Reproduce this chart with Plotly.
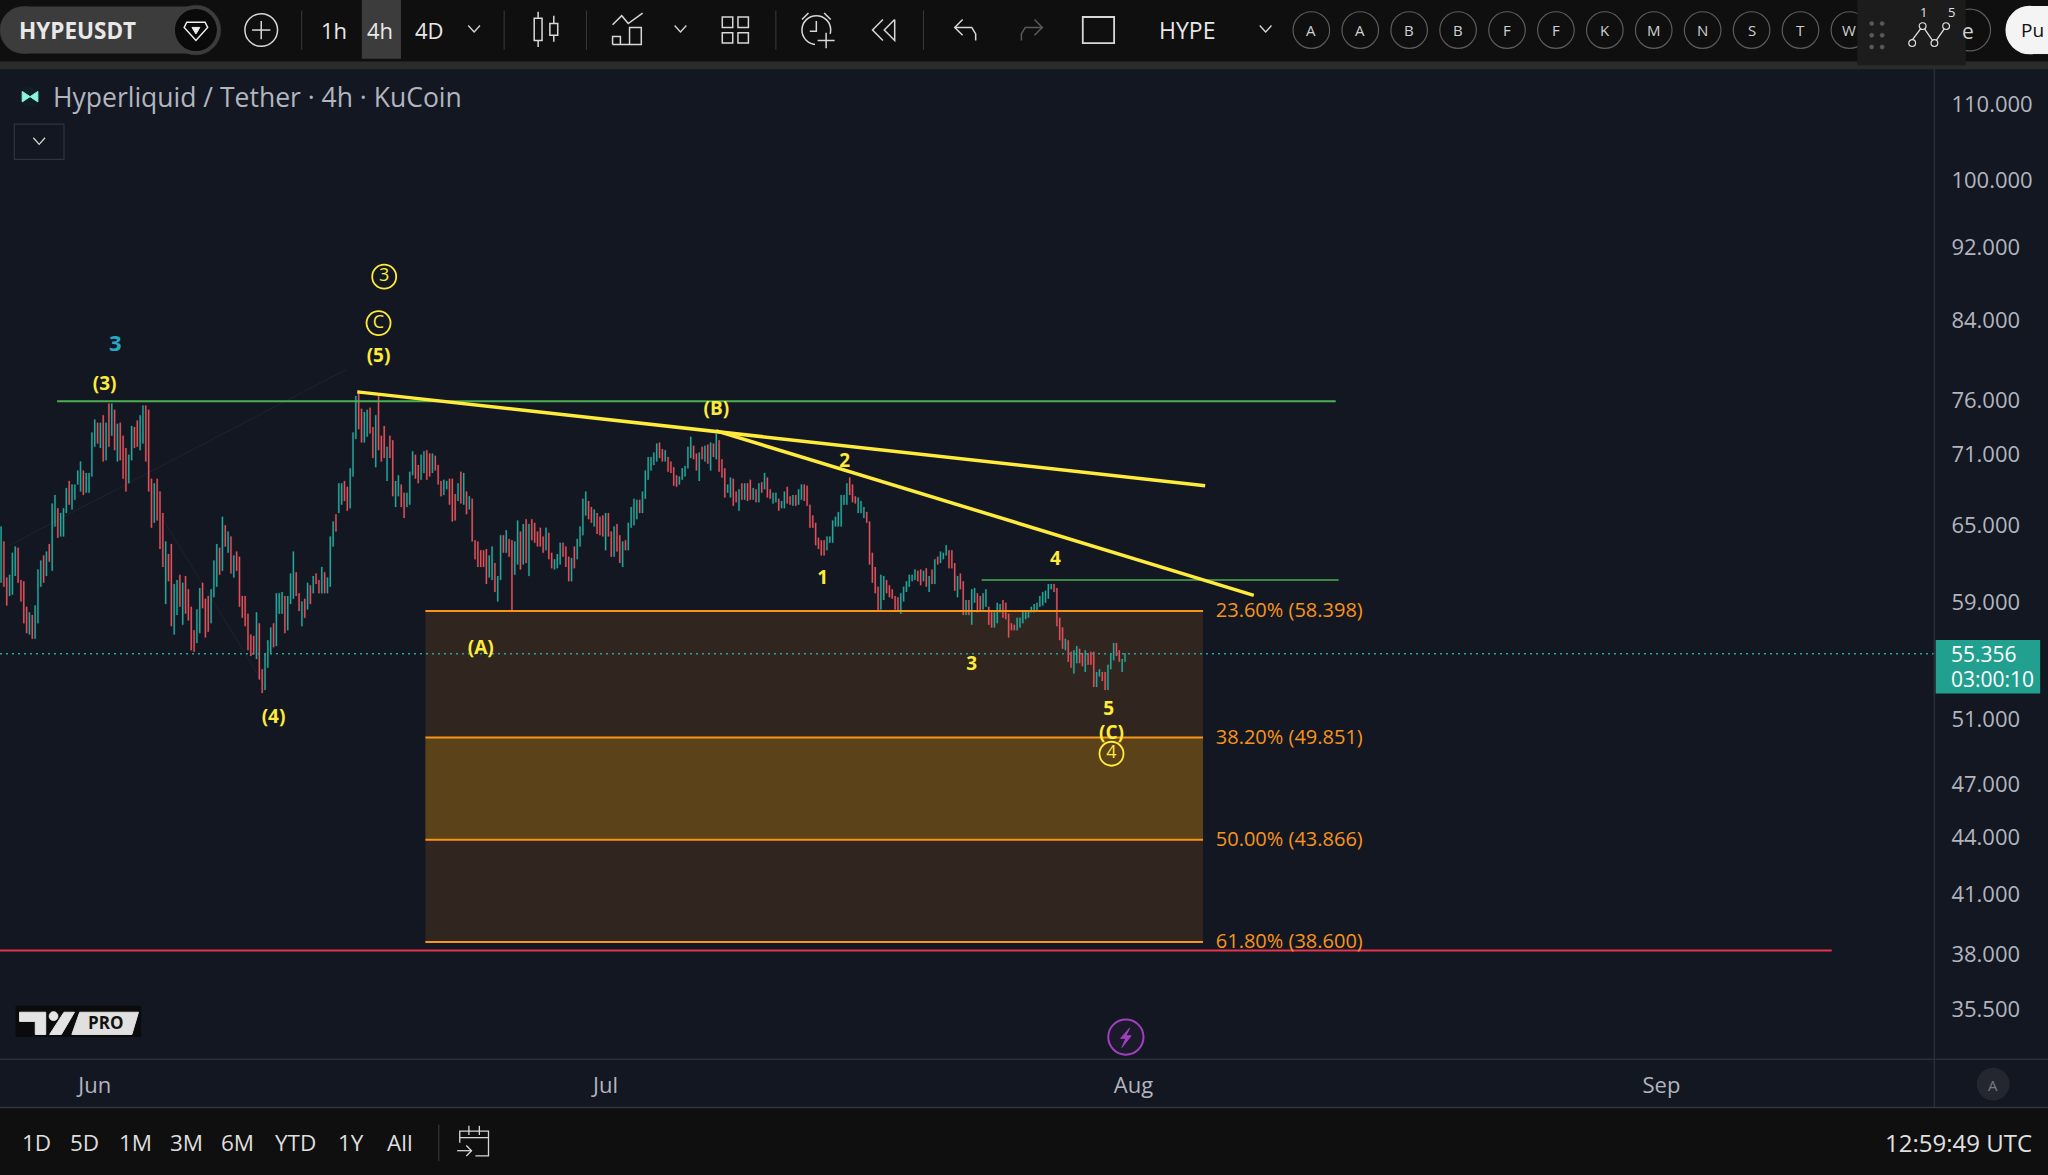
import math

import pandas as pd
import plotly.graph_objects as go

# 4h bars
highs = [
    64.9, 63.7, 60.9, 61.1, 62.8, 63.3, 63.2, 60.7, 60.6, 58.7,
    58.3, 58.1, 58.8, 61.5, 62.2, 62.6, 62.9, 63.5, 66.8, 67.5,
    66.4, 66.0, 66.4, 68.1, 68.7, 68.4, 68.4, 69.6, 70.4, 69.6,
    69.4, 69.4, 73.0, 74.2, 73.9, 73.9, 74.6, 73.9, 75.7, 75.7,
    75.1, 73.8, 73.9, 72.7, 71.6, 71.0, 73.6, 73.5, 74.1, 74.6,
    75.5, 75.5, 75.1, 68.9, 68.5, 68.9, 67.8, 66.0, 63.7, 62.7,
    63.5, 60.4, 60.7, 61.1, 60.5, 61.0, 60.0, 58.7, 57.0, 58.5,
    60.1, 60.5, 59.3, 59.5, 60.0, 62.2, 63.5, 63.2, 65.7, 65.0,
    64.5, 64.1, 62.6, 62.9, 62.5, 59.5, 59.5, 58.2, 56.7, 56.6,
    58.3, 57.5, 54.3, 55.4, 56.3, 57.2, 57.5, 59.7, 59.7, 59.8,
    59.5, 59.5, 61.2, 62.9, 61.3, 59.7, 59.1, 59.3, 60.5, 60.3,
    61.0, 61.2, 60.7, 61.7, 61.3, 60.9, 64.1, 65.3, 65.9, 68.5,
    68.5, 68.7, 68.2, 69.8, 73.0, 76.4, 76.9, 75.2, 74.9, 75.1,
    75.3, 73.5, 74.6, 76.6, 72.7, 73.6, 71.7, 72.7, 72.3, 68.7,
    69.2, 68.4, 67.7, 67.7, 69.5, 71.3, 71.0, 70.1, 71.0, 71.3,
    71.4, 71.1, 71.1, 70.9, 70.1, 68.7, 68.8, 68.7, 68.9, 68.9,
    67.6, 68.5, 69.5, 69.4, 67.8, 67.4, 67.2, 63.8, 63.7, 63.0,
    63.0, 63.1, 62.6, 63.3, 62.0, 61.0, 64.2, 64.2, 64.6, 63.9,
    63.8, 63.7, 65.4, 64.5, 65.1, 65.5, 65.1, 65.5, 65.2, 64.5,
    64.8, 64.1, 64.8, 64.4, 62.8, 62.3, 62.7, 63.6, 63.6, 63.3,
    62.5, 62.4, 63.3, 63.9, 64.9, 67.2, 67.8, 67.0, 66.5, 66.3,
    66.0, 65.7, 65.8, 66.0, 66.0, 64.5, 64.9, 65.1, 64.2, 63.7,
    63.8, 65.2, 66.5, 67.2, 67.1, 67.1, 67.8, 69.6, 70.8, 70.8,
    71.2, 72.0, 72.1, 71.5, 71.4, 70.8, 70.4, 69.9, 69.2, 69.1,
    69.8, 70.0, 71.7, 72.6, 71.8, 71.1, 71.2, 71.7, 71.8, 71.9,
    72.1, 72.0, 72.9, 72.3, 70.6, 69.8, 68.4, 69.0, 68.9, 67.8,
    68.0, 68.5, 68.5, 68.5, 68.8, 68.1, 68.0, 68.5, 68.6, 69.4,
    69.0, 68.0, 67.7, 67.7, 67.2, 67.0, 67.8, 68.2, 67.4, 67.5,
    67.5, 68.0, 68.4, 68.4, 68.3, 66.7, 65.8, 65.2, 64.0, 63.8,
    63.8, 64.1, 64.1, 65.4, 65.7, 66.1, 67.5, 67.5, 68.5, 69.0,
    68.4, 67.4, 67.3, 67.0, 66.5, 66.1, 65.3, 62.8, 61.7, 60.2,
    61.1, 61.0, 60.7, 60.3, 60.0, 59.5, 59.4, 59.7, 60.2, 60.6,
    61.1, 61.1, 61.5, 61.4, 61.5, 61.4, 61.6, 61.0, 61.5, 62.3,
    62.5, 62.9, 62.8, 63.4, 63.0, 63.0, 62.0, 61.0, 61.2, 60.6,
    59.2, 59.2, 60.0, 60.1, 59.7, 59.5, 59.7, 60.0, 58.7, 58.3,
    58.3, 59.0, 58.9, 59.2, 59.0, 58.2, 57.5, 57.4, 57.9, 57.9,
    58.4, 58.4, 58.4, 58.7, 58.9, 59.0, 59.5, 59.8, 59.9, 60.4,
    60.4, 60.4, 60.1, 57.9, 57.2, 56.4, 56.3, 55.5, 55.6, 55.9,
    55.7, 55.4, 55.6, 55.4, 55.5, 55.5, 54.1, 54.3, 54.1, 54.1,
    54.6, 55.4, 56.1, 56.1, 55.6, 55.0, 55.4,
]
lows = [
    60.5, 60.2, 58.8, 59.5, 59.6, 61.0, 60.5, 59.1, 57.5, 56.8,
    56.7, 56.4, 56.4, 57.5, 60.2, 60.5, 61.0, 62.1, 61.4, 64.9,
    64.0, 64.1, 64.1, 66.0, 66.7, 66.3, 67.1, 68.4, 67.8, 67.5,
    67.7, 67.7, 69.1, 71.7, 72.0, 71.6, 70.4, 70.5, 71.7, 72.7,
    71.4, 70.4, 70.5, 68.9, 67.8, 68.5, 70.5, 71.6, 71.7, 71.4,
    72.0, 70.4, 67.8, 64.8, 65.2, 65.4, 63.1, 61.7, 58.9, 60.6,
    57.3, 56.7, 58.1, 58.7, 57.4, 58.2, 57.7, 55.6, 55.5, 56.1,
    56.8, 58.6, 56.5, 56.9, 57.5, 59.4, 60.2, 61.1, 61.4, 63.3,
    62.8, 61.2, 60.9, 61.4, 58.7, 57.9, 57.3, 55.6, 55.2, 55.3,
    55.0, 53.6, 52.7, 52.9, 54.4, 55.4, 55.8, 55.9, 58.2, 58.2,
    56.8, 57.0, 58.9, 59.3, 59.5, 58.4, 57.3, 57.9, 58.5, 58.9,
    59.7, 60.4, 59.7, 59.7, 59.7, 59.7, 60.2, 63.3, 64.5, 66.0,
    66.7, 67.0, 66.2, 66.4, 69.1, 72.4, 73.3, 72.1, 72.1, 72.6,
    72.9, 70.7, 69.9, 71.4, 70.4, 70.7, 68.7, 70.7, 67.4, 66.5,
    67.4, 66.5, 65.6, 66.5, 66.7, 69.2, 68.9, 68.5, 68.8, 69.4,
    68.8, 69.1, 69.4, 69.6, 68.4, 67.4, 67.5, 68.0, 66.7, 65.3,
    65.4, 67.0, 66.8, 66.7, 65.9, 66.3, 63.7, 62.3, 61.7, 61.7,
    61.7, 60.4, 60.9, 60.7, 59.8, 59.1, 60.7, 62.8, 62.8, 62.5,
    58.4, 61.1, 61.9, 61.5, 61.9, 62.0, 61.0, 63.8, 63.6, 63.3,
    63.3, 62.8, 63.0, 62.3, 61.6, 61.5, 61.6, 61.9, 62.5, 61.7,
    60.6, 60.6, 61.6, 62.3, 63.3, 64.2, 65.8, 65.5, 65.2, 64.9,
    64.3, 64.2, 64.1, 63.0, 64.1, 62.5, 62.5, 62.9, 62.0, 61.7,
    63.0, 63.0, 64.8, 65.0, 65.5, 66.0, 66.0, 67.2, 68.8, 69.6,
    70.1, 70.4, 70.7, 70.4, 70.4, 69.5, 69.4, 68.3, 68.2, 68.4,
    68.8, 69.1, 69.8, 70.7, 70.6, 69.6, 68.7, 70.6, 70.4, 70.2,
    69.6, 70.8, 70.6, 69.5, 69.0, 67.3, 67.7, 67.3, 66.6, 66.9,
    66.2, 67.1, 67.1, 67.0, 67.1, 67.1, 66.9, 66.9, 67.7, 68.0,
    67.3, 67.2, 66.8, 66.9, 66.2, 66.4, 66.4, 66.8, 66.7, 66.6,
    66.6, 66.7, 67.1, 67.0, 66.6, 64.8, 64.8, 63.4, 63.1, 62.6,
    62.6, 63.0, 63.6, 63.6, 64.9, 64.9, 64.9, 66.7, 66.7, 67.5,
    66.9, 66.8, 66.0, 66.0, 65.6, 65.2, 61.9, 60.5, 59.7, 58.4,
    58.5, 59.2, 59.7, 59.4, 59.3, 58.5, 58.4, 58.2, 59.1, 59.8,
    60.2, 60.6, 60.7, 60.6, 60.3, 60.6, 60.2, 59.8, 60.4, 60.4,
    61.9, 62.0, 62.3, 62.6, 61.6, 61.6, 59.9, 59.4, 60.0, 58.1,
    58.1, 58.1, 57.4, 59.0, 58.3, 58.4, 58.5, 58.7, 57.4, 57.2,
    57.2, 57.5, 58.3, 57.9, 57.8, 56.5, 57.0, 57.0, 57.0, 57.2,
    57.5, 57.8, 57.9, 58.3, 58.3, 58.4, 58.7, 58.8, 59.0, 59.3,
    60.0, 59.8, 57.3, 56.3, 55.7, 55.6, 54.8, 54.4, 54.0, 54.7,
    54.7, 54.5, 54.1, 54.6, 54.6, 53.1, 53.1, 53.8, 53.5, 52.9,
    52.9, 54.3, 54.9, 55.2, 54.8, 54.1, 54.8,
]
directions = "".join([
    "udduu", "udddd", "uduuu", "duduu", "duuud", "uuuud", "uuuud", "ududu",
    "duddd", "uuddu", "udddu", "dddud", "duudu", "ddddu", "udddu", "uudud",
    "ududd", "ddddd", "udduu", "uduuu", "duuud", "dudud", "uddud", "uuudu",
    "udduu", "udduu", "ddudd", "duddu", "udduu", "udduu", "ddudd", "duudd",
    "dudud", "udddd", "dduud", "uudud", "duudu", "duddd", "ddudd", "uuudd",
    "duduu", "uuddu", "dddud", "duddu", "duuuu", "duuuu", "uuddu", "ddddu",
    "uuuud", "dudud", "ududd", "duudd", "ududd", "ududu", "dduud", "uuddu",
    "duudd", "ddddd", "duuuu", "uuuud", "dduuu", "ddddd", "uuddd", "dduuu",
    "uuudd", "ududu", "duuud", "ddudd", "uduud", "duudd", "uuudd", "ddduu",
    "uuuuu", "uuuuu", "udddd", "udduu", "ddudd", "duudd", "uuudd", "uu",
])
last_bar = "2025-07-31 12:00"
last_price = 55.356

fib_levels = [58.398, 49.851, 43.866, 38.600]
fib_labels = ["23.60% (58.398)", "38.20% (49.851)", "50.00% (43.866)", "61.80% (38.600)"]
fib_start = "2025-06-20 10:00"
fib_end = "2025-08-05 02:00"
fib_label_at = "2025-08-05 20:00"
fib_label_prices = [58.35, 49.76, 43.8, 38.56]

wave_labels = ["(3)", "(5)", "(B)", "2", "1", "4", "(A)", "3", "(4)", "5", "(C)"]
wave_times = ["2025-06-01 14:00", "2025-06-17 16:00", "2025-07-07 12:00", "2025-07-15 01:00",
              "2025-07-13 18:00", "2025-07-27 10:00", "2025-06-23 16:00", "2025-07-22 12:00",
              "2025-06-11 12:00", "2025-07-30 13:00", "2025-07-30 17:00"]
wave_prices = [77.4, 80.2, 75.1, 70.3, 60.75, 62.25, 55.65, 54.55, 51.05, 51.55, 50.05]
circle_labels = ["3", "C", "4"]
circle_times = ["2025-06-18 00:00", "2025-06-17 16:00", "2025-07-30 17:00"]
circle_prices = [88.7, 83.7, 48.85]

price_ticks = [110, 100, 92, 84, 76, 71, 65, 59, 51, 47, 44, 41, 38, 35.5]
month_ticks = ["2025-06-01", "2025-07-01", "2025-08-01", "2025-09-01"]
month_names = ["Jun", "Jul", "Aug", "Sep"]

top_intervals = ["1h", "4h", "4D"]
watch_letters = ["A", "A", "B", "B", "F", "F", "K", "M", "N", "S", "T", "W"]
ranges = ["1D", "5D", "1M", "3M", "6M", "YTD", "1Y", "All"]

FONT = "Open Sans"
BG = "#131722"
BAR = "#0f0f0f"
TEAL = "#26a69a"
RED = "#e0525a"
YELLOW = "#ffeb3b"
ORANGE = "#f7941d"
GREEN = "#4caf50"
ICON = "#d8d8d8"

WIDTH = 2048
HEIGHT = 1175
PLOT_RIGHT = 1936
PLOT_TOP = 69
PLOT_BOTTOM = 1059
S = 2048 / 1568  # toolbar positions measured on the 1568 wide view
x_range = ["2025-05-26 10:30", "2025-09-17 03:00"]
y_range = [math.log10(33.35), math.log10(115.0)]


def fx(v):
    return v * S / PLOT_RIGHT


def fy(v):
    return (PLOT_BOTTOM - v * S) / (PLOT_BOTTOM - PLOT_TOP)


shapes = []
notes = []


def rect(x0, y0, x1, y1, fill, line=None, width=1):
    shapes.append(dict(type="rect", xref="paper", yref="paper", x0=fx(x0), x1=fx(x1), y0=fy(y0), y1=fy(y1),
                       fillcolor=fill, line=dict(color=line or "rgba(0,0,0,0)", width=width)))


def circle(cx, cy, r, fill=None, line=ICON, width=1.5):
    shapes.append(dict(type="circle", xref="paper", yref="paper", x0=fx(cx - r), x1=fx(cx + r),
                       y0=fy(cy - r), y1=fy(cy + r), fillcolor=fill or "rgba(0,0,0,0)",
                       line=dict(color=line, width=width)))


def stroke(points, color=ICON, width=1.5, fill=None, closed=False):
    d = "M " + " L ".join(f"{fx(x):.5f} {fy(y):.5f}" for x, y in points)
    if closed:
        d += " Z"
    shapes.append(dict(type="path", xref="paper", yref="paper", path=d, fillcolor=fill or "rgba(0,0,0,0)",
                       line=dict(color=color, width=width)))


def label(x, y, text, size=20, color=ICON, anchor="center", bold=False):
    if bold:
        text = f"<b>{text}</b>"
    notes.append(dict(xref="paper", yref="paper", x=fx(x), y=fy(y), text=text, showarrow=False,
                      xanchor=anchor, yanchor="middle", font=dict(family=FONT, size=size, color=color)))


def chevron(x, y, w=4.5):
    stroke([(x - w, y - 2.5), (x, y + 2.5), (x + w, y - 2.5)], width=1.3)


# bars
times = pd.date_range(end=last_bar, periods=len(highs), freq="4h")
opens = [l if d == "u" else h for h, l, d in zip(highs, lows, directions)]
closes = [h if d == "u" else l for h, l, d in zip(highs, lows, directions)]

fig = go.Figure()

# fib zones sit under the bars
zone_colors = ["#30251f", "#5c4219", "#30251f"]
for i, col in enumerate(zone_colors):
    shapes.append(dict(type="rect", xref="x", yref="y", layer="below", x0=fib_start, x1=fib_end,
                       y0=fib_levels[i], y1=fib_levels[i + 1], fillcolor=col, line=dict(width=0)))

fig.add_trace(go.Candlestick(
    x=times, open=opens, high=highs, low=lows, close=closes, whiskerwidth=0,
    increasing=dict(line=dict(color=TEAL, width=0.2), fillcolor=TEAL),
    decreasing=dict(line=dict(color=RED, width=0.2), fillcolor=RED),
    hoverinfo="skip", showlegend=False))


def line(xs, ys, color, width, dash="solid"):
    fig.add_trace(go.Scatter(x=xs, y=ys, mode="lines", hoverinfo="skip", showlegend=False,
                             line=dict(color=color, width=width, dash=dash)))


# faint wave zig-zag behind everything
line(["2025-05-27 00:00", "2025-06-15 19:00"], [63.4, 79.0], "rgba(255,255,255,0.05)", 1)
line(["2025-06-05 00:00", "2025-06-11 02:00"], [65.5, 53.0], "rgba(255,255,255,0.05)", 1)

line(x_range, [last_price, last_price], TEAL, 1.5, "2px,4px")
for level in fib_levels:
    line([fib_start, fib_end], [level, level], ORANGE, 2)
line(["2025-05-29 19:00", "2025-08-12 21:00"], [75.9, 75.9], GREEN, 2)
line(["2025-07-23 02:00", "2025-08-13 01:00"], [60.7, 60.7], GREEN, 1.5)
line(["2025-06-16 10:00", "2025-08-05 05:00"], [76.8, 68.3], YELLOW, 3.5)
line(["2025-07-07 12:00", "2025-08-08 01:30"], [73.15, 59.55], YELLOW, 3.5)
line([x_range[0], "2025-09-11 00:00"], [38.2, 38.2], "#e8344a", 2)

fig.add_trace(go.Scatter(x=[fib_label_at] * 4, y=fib_label_prices, text=fib_labels, mode="text",
                         textposition="middle right", hoverinfo="skip", showlegend=False,
                         textfont=dict(family=FONT, size=20, color=ORANGE)))
fig.add_trace(go.Scatter(x=wave_times, y=wave_prices, text=[f"<b>{t}</b>" for t in wave_labels], mode="text",
                         textposition="middle center", hoverinfo="skip", showlegend=False,
                         textfont=dict(family=FONT, size=19, color=YELLOW)))
fig.add_trace(go.Scatter(x=circle_times, y=circle_prices, text=circle_labels, mode="markers+text",
                         textposition="middle center", hoverinfo="skip", showlegend=False,
                         marker=dict(symbol="circle-open", size=24, color=YELLOW, line=dict(width=1.8, color=YELLOW)),
                         textfont=dict(family=FONT, size=18, color=YELLOW)))
fig.add_trace(go.Scatter(x=["2025-06-02 05:00"], y=[81.35], text=["<b>3</b>"], mode="text",
                         textposition="middle center", hoverinfo="skip", showlegend=False,
                         textfont=dict(family=FONT, size=22, color="#26a9c4")))

# top bar
rect(0, 0, 1568, 47, BAR)
rect(0, 47, 1568, 53, "#2b2b2b")
circle(18, 23, 18, "#3c3c3c", "#3c3c3c", 0.5)
rect(18, 5, 150, 41, "#3c3c3c")
circle(150, 23, 19, "#3c3c3c", "#3c3c3c", 0.5)
circle(150, 23, 15.5, "#0a0a0a", "#0a0a0a")
stroke([(143, 17), (157, 17), (159, 21), (150, 31), (141, 21)], "#eeeeee", 1.5, None, True)
stroke([(147, 21), (153, 21), (150, 26)], "#eeeeee", 1, "#eeeeee", True)
label(13, 23, "HYPEUSDT", 22.5, "#e8e8e8", "left", True)
circle(200, 23, 12.5)
stroke([(193, 23), (207, 23)])
stroke([(200, 16), (200, 30)])
rect(277, 0, 307, 45, "#3c3c3c")
for x, name in zip([256, 291, 329], top_intervals):
    label(x, 23, name, 22, "#e8e8e8")
chevron(363, 22)
for x in [231, 386, 449, 594, 707]:
    stroke([(x, 8), (x, 38)], "#3a3a3a", 1)
# candle icon
stroke([(412, 9), (412, 36)])
rect(409, 14, 415, 31, BAR, ICON, 1.5)
stroke([(424, 12), (424, 32)])
rect(421, 18, 427, 27, BAR, ICON, 1.5)
# indicators icon
stroke([(469, 19), (476, 12), (481, 18), (492, 10)])
stroke([(469, 34), (469, 28), (475, 28), (475, 34), (482, 34), (482, 21), (491, 21), (491, 34), (469, 34)])
chevron(521, 22)
# layout icon, four small round cells
for cx, cy in [(557, 17), (569, 17), (557, 29), (569, 29)]:
    rect(cx - 4, cy - 4, cx + 4, cy + 4, BAR, ICON, 1.5)
# alarm and replay
circle(625, 23, 11)
stroke([(625, 16), (625, 24), (620, 24)])
stroke([(614, 15), (619, 10)])
stroke([(631, 10), (636, 15)])
rect(624, 26, 641, 39, BAR)
stroke([(626, 31), (639, 31)])
stroke([(632.5, 25), (632.5, 37)])
stroke([(685, 15), (677, 23), (685, 31), (685, 15)])
stroke([(676, 15), (668, 23), (676, 31)])
# undo, redo, rectangle
stroke([(731, 21), (744, 21), (747, 26), (747, 31)])
stroke([(737, 15), (731, 21), (737, 27)])
stroke([(782, 31), (782, 26), (785, 21), (798, 21)], "#5a5a5a")
stroke([(792, 15), (798, 21), (792, 27)], "#5a5a5a")
rect(829, 13, 853, 33, BAR, ICON, 1.8)
label(909, 23, "HYPE", 23, "#e8e8e8")
chevron(969, 22)
for x, name in zip([1004 + i * 37.45 for i in range(12)], watch_letters):
    circle(x, 23, 14, None, "#5c5c5c", 1.2)
    label(x, 23, name, 15, "#d0d0d0")
# pill, floating widget
circle(1508, 23, 16, None, "#5c5c5c", 1.2)
rect(1422, 0, 1505, 50, "#1c1c1c")
label(1507, 24, "e", 21, "#d0d0d0")
circle(1554, 23, 18, "#f4f4f4", "#f4f4f4")
rect(1554, 5, 1568, 41, "#f4f4f4", "#f4f4f4")
label(1546, 23, "Pu", 19, "#111111", "left")
for cx in [1433, 1441]:
    for cy in [18, 27, 36]:
        circle(cx, cy, 1.6, "#5a5a5a", "#5a5a5a", 0.5)
stroke([(1463, 32), (1472, 20), (1481, 33), (1490, 20)], "#e0e0e0", 1.3)
for cx, cy in [(1464, 33), (1472, 20), (1481, 33), (1490, 20)]:
    circle(cx, cy, 2.6, "#1c1c1c", "#e0e0e0", 1.2)
label(1473, 9, "1", 13, "#e0e0e0")
label(1494, 9, "5", 13, "#e0e0e0")

# legend
circle(23, 74, 7, "#0f1f24", "#0f1f24")
stroke([(17, 70), (23, 74), (29, 70), (29, 78), (23, 74), (17, 78)], "#8df5dc", 1, "#8df5dc", True)
label(39, 74, "Hyperliquid / Tether · 4h · KuCoin", 26.5, "#b2b5be", "left")
rect(11, 95, 49, 122, BG, "#2f333d", 1.2)
chevron(30, 108)

# logo
rect(12, 770, 108, 794, "#0b0b0b")
stroke([(15, 775), (35, 775), (35, 792), (27, 792), (27, 782), (15, 782)], "#e4e4e4", 1, "#e4e4e4", True)
circle(41, 778, 3.5, "#e4e4e4", "#e4e4e4", 0.5)
stroke([(49, 775), (57, 775), (47, 792), (38, 792)], "#e4e4e4", 1, "#e4e4e4", True)
stroke([(61, 775), (106, 775), (101, 792), (55, 792)], "#e0e0e0", 1, "#e0e0e0", True)
label(81, 783, "PRO", 17, "#111111", "center", True)

# lightning badge
circle(862, 794, 13.5, "#1b1a2b", "#a13fc0", 2)
stroke([(865, 787), (858, 795), (862, 795), (859, 802), (866, 793), (862, 793)], "#a13fc0", 1, "#a13fc0", True)

# price tag
rect(1482, 490, 1562, 531, "#22a08f")
label(1492, 501, "55.356", 21, "#ffffff", "left")
label(1492, 520, "03:00:10", 21, "#ffffff", "left")

# axis corner and bottom bar
stroke([(0, 811), (1568, 811)], "#2a2e39", 1.5)
stroke([(1481, 53), (1481, 848)], "#2a2e39", 1.5)
circle(1526, 830, 12, "#24272f", "#24272f")
label(1526, 831, "A", 15, "#787b86")
rect(0, 848, 1568, 900, BAR)
stroke([(0, 848), (1568, 848)], "#33363d", 1.5)
for x, name in zip([28, 65, 104, 143, 182, 226, 269, 306], ranges):
    label(x, 875, name, 22.5, "#dedede")
stroke([(336, 861), (336, 889)], "#3a3a3a", 1)
stroke([(352, 875), (352, 866), (374, 866), (374, 885), (364, 885)], ICON, 1.3)
stroke([(352, 871), (374, 871)], ICON, 1.3)
stroke([(359, 862), (359, 869)], ICON, 1.3)
stroke([(367, 862), (367, 869)], ICON, 1.3)
stroke([(350, 881), (361, 881)], ICON, 1.3)
stroke([(357, 877), (361, 881), (357, 885)], ICON, 1.3)
label(1557, 875, "12:59:49 UTC", 24, "#e0e0e0", "right")

fig.update_layout(
    width=WIDTH, height=HEIGHT, autosize=False, paper_bgcolor=BG, plot_bgcolor=BG,
    margin=dict(l=0, r=WIDTH - PLOT_RIGHT, t=PLOT_TOP, b=HEIGHT - PLOT_BOTTOM, pad=0, autoexpand=False),
    showlegend=False, dragmode=False, shapes=shapes, annotations=notes,
    font=dict(family=FONT, color="#b2b5be"),
    xaxis=dict(type="date", range=x_range, showgrid=False, zeroline=False, rangeslider=dict(visible=False),
               tickmode="array", tickvals=month_ticks, ticktext=month_names, ticks="outside", ticklen=7,
               tickcolor="rgba(0,0,0,0)", tickfont=dict(family=FONT, size=22, color="#b2b5be"), showline=False),
    yaxis=dict(type="log", range=y_range, side="right", showgrid=False, zeroline=False, tickmode="array",
               tickvals=price_ticks, ticktext=[f"{p:.3f}" for p in price_ticks], ticks="outside", ticklen=10,
               tickcolor="rgba(0,0,0,0)", tickfont=dict(family=FONT, size=22, color="#b2b5be"), showline=False),
)

fig.write_html("out.html", config={"displayModeBar": False},
               post_script="document.body.style.margin='0';document.body.style.overflow='hidden';")
